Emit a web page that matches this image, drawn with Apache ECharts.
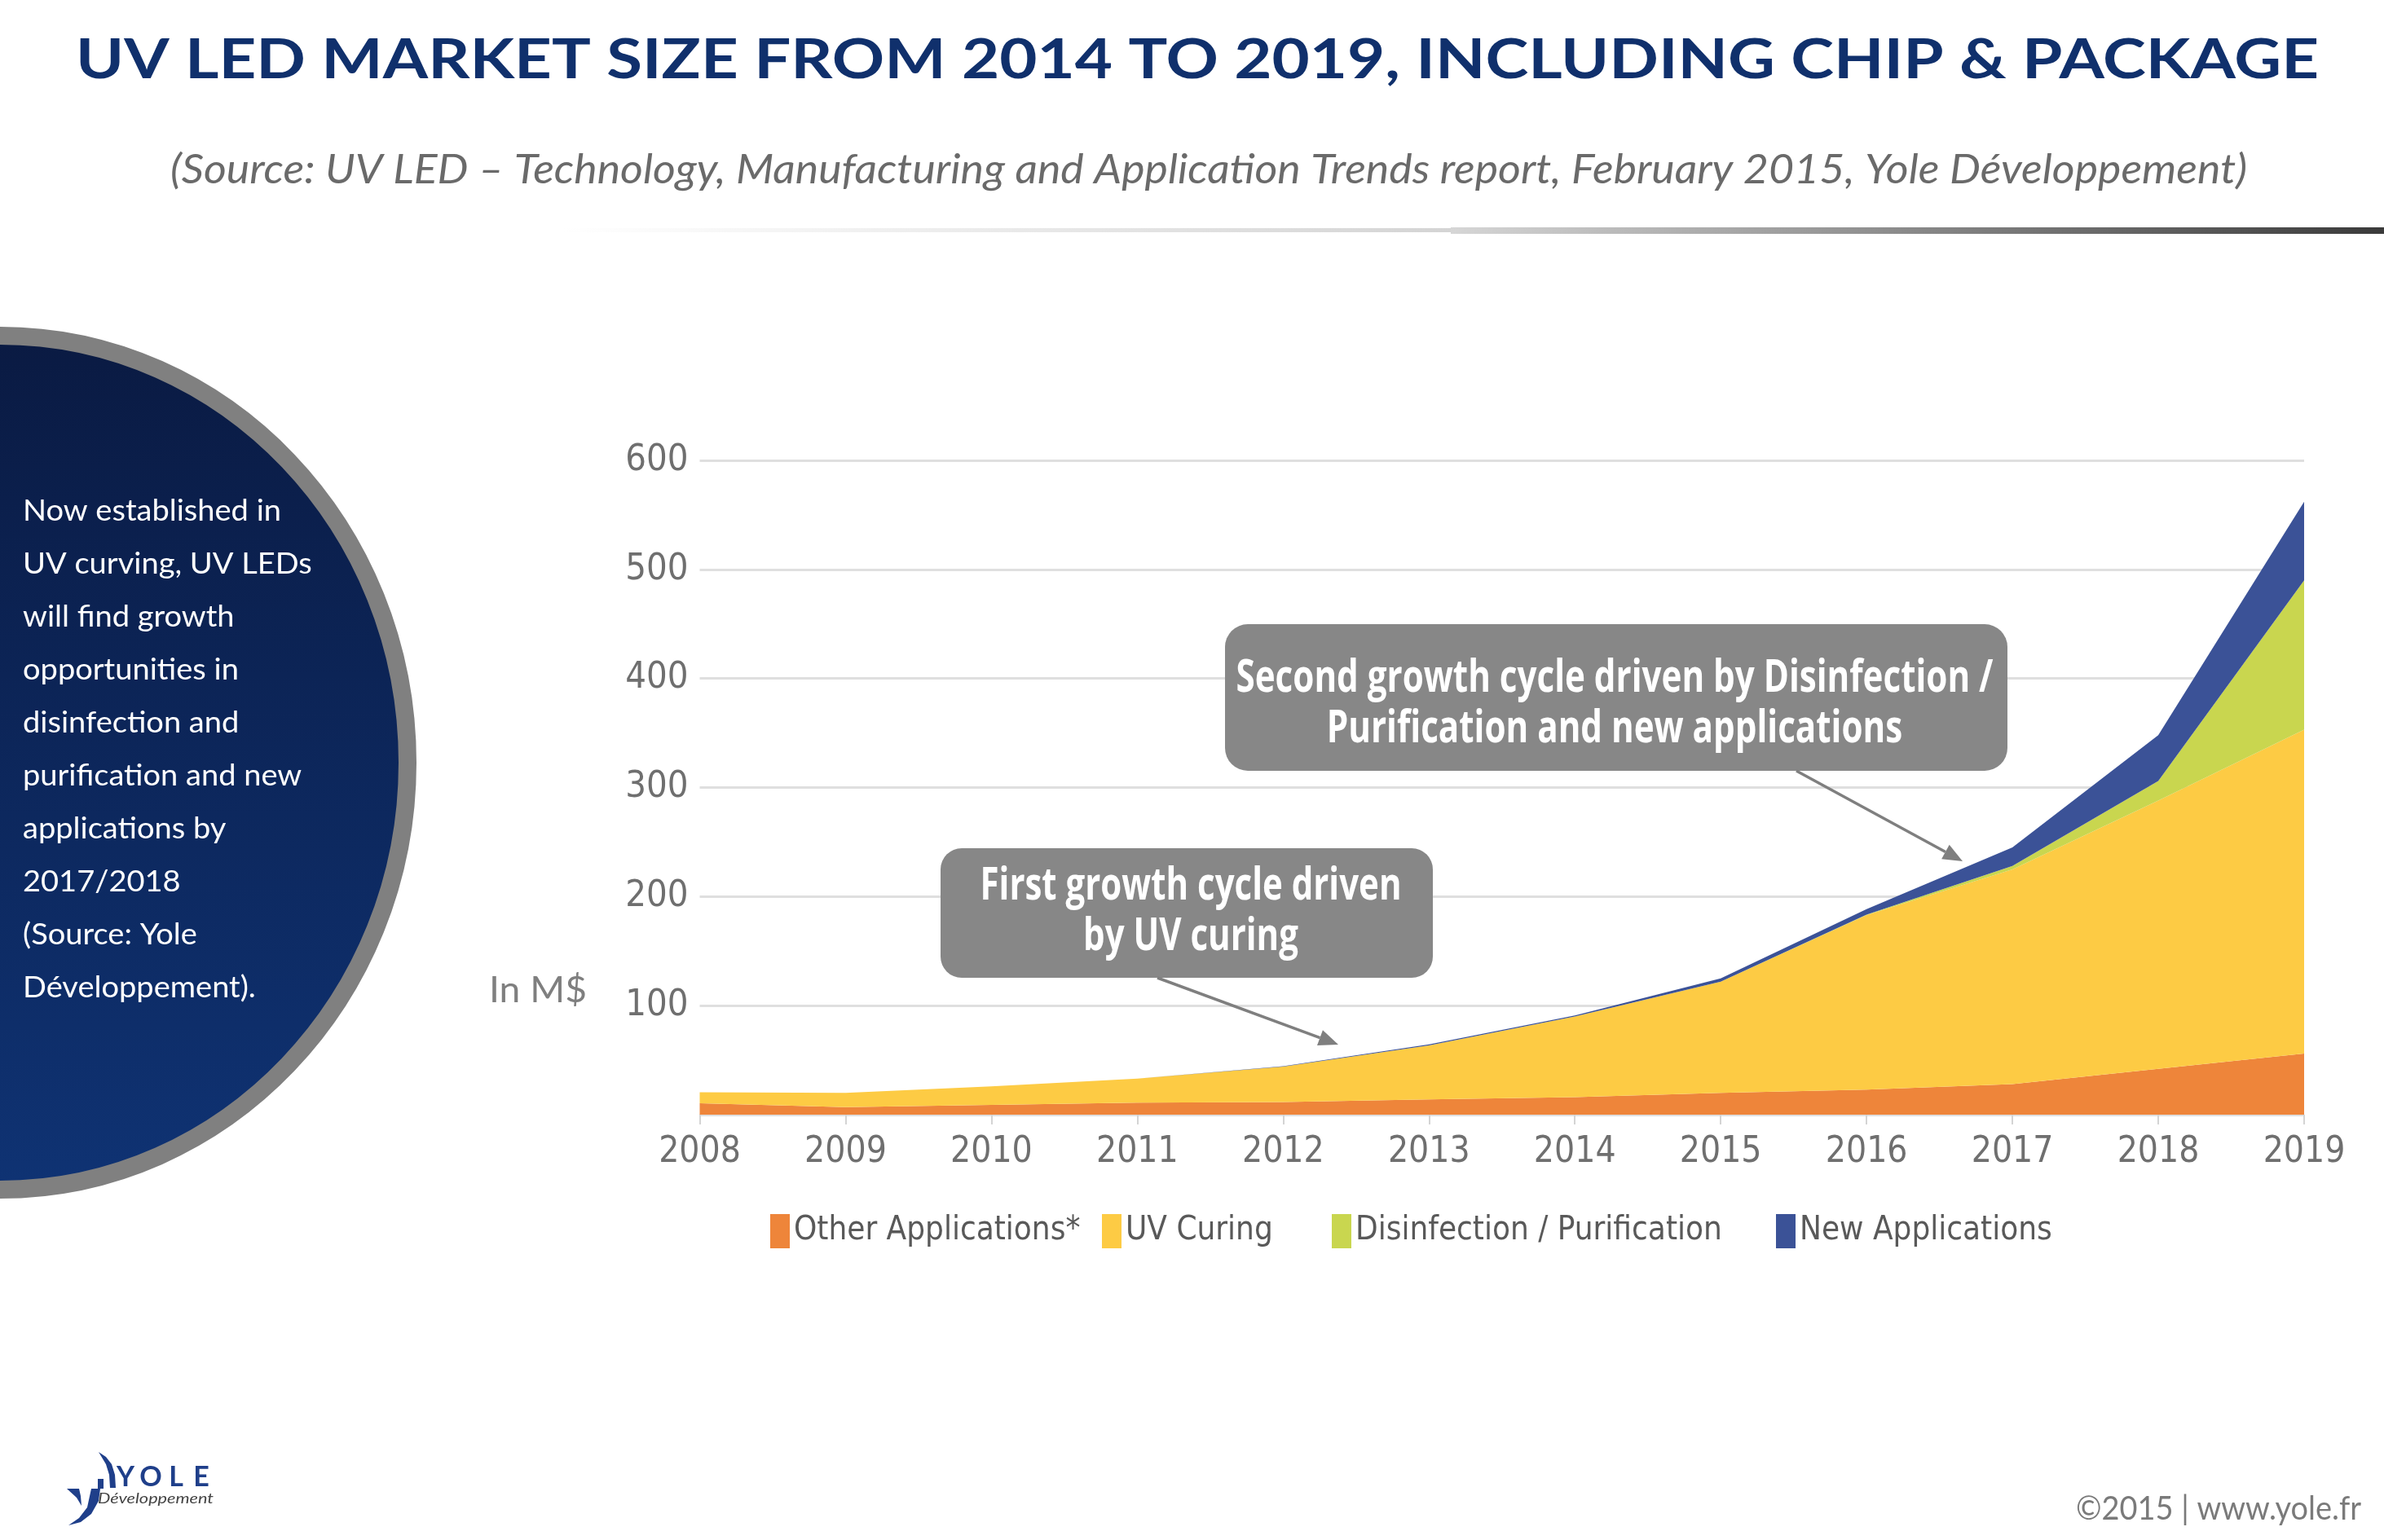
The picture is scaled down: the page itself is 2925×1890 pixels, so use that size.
<!DOCTYPE html>
<html>
<head>
<meta charset="utf-8">
<script src="https://cdn.jsdelivr.net/npm/echarts@6/dist/echarts.min.js"></script>
<style>html,body{margin:0;padding:0;background:#fff}#c{width:2925px;height:1890px}</style>
</head>
<body>
<div id="c"></div>
<script>
// ---------- data ----------
const years = ['2008','2009','2010','2011','2012','2013','2014','2015','2016','2017','2018','2019'];
const otherApplications = [10.5, 7, 9, 11, 11.5, 14, 16, 20, 23, 28, 42, 56];
const uvCuring = [10, 13, 17, 22, 32.5, 49.5, 74, 102, 160, 197, 246, 297];
const disinfection = [0, 0, 0, 0, 0, 0, 0, 0, 0.5, 3, 18, 137];
const newApplications = [0, 0, 0, 0, 0.5, 1, 1, 3, 5, 17, 42, 72];
const seriesNames = ['Other Applications*', 'UV Curing', 'Disinfection / Purification', 'New Applications'];
const yMin = 0, yMax = 600, yStep = 100;

const titleText = 'UV LED MARKET SIZE FROM 2014 TO 2019, INCLUDING CHIP & PACKAGE';
const subtitleText = '(Source: UV LED \u2013 Technology, Manufacturing and Application Trends report, February 2015, Yole D\u00e9veloppement)';
const sideLines = ['Now established in', 'UV curving, UV LEDs', 'will find growth', 'opportunities in',
  'disinfection and', 'purification and new', 'applications by', '2017/2018', '(Source: Yole', 'D\u00e9veloppement).'];
const note1 = ['First growth cycle driven', 'by UV curing'];
const note2 = ['Second growth cycle driven by Disinfection /', 'Purification and new applications'];
const unitText = 'In M$';
const footerText = '\u00a92015 | www.yole.fr';

// ---------- style ----------
const colors = ['#EE853A', '#FDCB44', '#C9D64F', '#3B5297'];
const NARROW = "'Liberation Sans Narrow', 'DejaVu Sans Condensed', 'Arial Narrow', sans-serif";
const HUMAN = "Lato, 'Open Sans', sans-serif";
const legendLefts = [945, 1352, 1634, 2179];

const mctx = document.createElement('canvas').getContext('2d');
function textWidth(t, size, family, weight, style) {
  mctx.font = `${style || 'normal'} ${weight || 'normal'} ${size}px ${family}`;
  return mctx.measureText(t).width;
}
function txt(t, x, y, o) {
  const sx = o.width ? o.width / textWidth(t, o.size, o.family, o.weight, o.italic ? 'italic' : 'normal') : (o.sx || 1);
  return {
    type: 'text', x: x, y: y, scaleX: sx, z: o.z || 10,
    style: {
      text: t, fill: o.color, fontSize: o.size, fontFamily: o.family,
      fontWeight: o.weight || 'normal', fontStyle: o.italic ? 'italic' : 'normal',
      align: o.align || 'left', textAlign: o.align || 'left',
      verticalAlign: 'middle', textVerticalAlign: 'middle'
    }
  };
}
function arrow(x1, y1, x2, y2) {
  const ang = Math.atan2(y2 - y1, x2 - x1), L = 24, W = 10;
  const bx = x2 - L * Math.cos(ang), by = y2 - L * Math.sin(ang);
  const px = -Math.sin(ang) * W, py = Math.cos(ang) * W;
  return [
    { type: 'line', z: 10, shape: { x1, y1, x2: bx, y2: by }, style: { stroke: '#7f7f7f', lineWidth: 3.5 } },
    { type: 'polygon', z: 10, shape: { points: [[x2, y2], [bx + px, by + py], [bx - px, by - py]] }, style: { fill: '#7f7f7f' } }
  ];
}

const chart = echarts.init(document.getElementById('c'), null, { renderer: 'canvas' });

const graphics = [];
// title & subtitle
graphics.push(txt(titleText, 1469, 74, { size: 67, family: HUMAN, weight: 'bold', color: '#10306C', align: 'center', width: 2752 }));
graphics.push(txt(subtitleText, 1483, 209, { size: 50, family: HUMAN, italic: true, color: '#6a6a6a', align: 'center', width: 2548 }));
// separator line
graphics.push({ type: 'rect', shape: { x: 690, y: 280, width: 1090, height: 5 },
  style: { fill: { type: 'linear', x: 0, y: 0, x2: 1, y2: 0, colorStops: [{ offset: 0, color: '#ffffff' }, { offset: 1, color: '#d4d4d4' }] } } });
graphics.push({ type: 'rect', shape: { x: 1780, y: 279, width: 1145, height: 8 },
  style: { fill: { type: 'linear', x: 0, y: 0, x2: 1, y2: 0, colorStops: [{ offset: 0, color: '#d6d6d6' }, { offset: 1, color: '#3a3a3a' }] } } });
// side ellipse
graphics.push({ type: 'ellipse', z: 5, shape: { cx: 0, cy: 936, rx: 500, ry: 524 },
  style: { stroke: '#808080', lineWidth: 22,
    fill: { type: 'linear', x: 0, y: 0, x2: 0, y2: 1, colorStops: [{ offset: 0, color: '#0a1a42' }, { offset: 1, color: '#0f3374' }] } } });
const sideScale = 317 / textWidth(sideLines[0], 37, HUMAN);
sideLines.forEach((l, i) => graphics.push(txt(l, 28, 627 + 65 * i, { size: 37, family: HUMAN, color: '#ffffff', sx: sideScale })));
// unit label
graphics.push(txt(unitText, 600, 1216, { size: 44, family: HUMAN, color: '#7f7f7f', width: 120 }));
// annotation boxes
graphics.push({ type: 'rect', z: 9, shape: { x: 1154, y: 1041, width: 604, height: 159, r: 26 }, style: { fill: '#878787' } });
const n1s = 517 / textWidth(note1[0], 56, "'Open Sans', sans-serif", 'bold');
graphics.push(txt(note1[0], 1461, 1088, { size: 56, family: "'Open Sans', sans-serif", weight: 'bold', color: '#ffffff', align: 'center', sx: n1s }));
graphics.push(txt(note1[1], 1461, 1150, { size: 56, family: "'Open Sans', sans-serif", weight: 'bold', color: '#ffffff', align: 'center', sx: n1s }));
graphics.push(...arrow(1420, 1200, 1642, 1282));
graphics.push({ type: 'rect', z: 9, shape: { x: 1503, y: 766, width: 960, height: 180, r: 28 }, style: { fill: '#878787' } });
const n2s = 929 / textWidth(note2[0], 56, "'Open Sans', sans-serif", 'bold');
graphics.push(txt(note2[0], 1981, 833, { size: 56, family: "'Open Sans', sans-serif", weight: 'bold', color: '#ffffff', align: 'center', sx: n2s }));
graphics.push(txt(note2[1], 1981, 895, { size: 56, family: "'Open Sans', sans-serif", weight: 'bold', color: '#ffffff', align: 'center', sx: n2s }));
graphics.push(...arrow(2204, 946, 2408, 1057));
// footer
graphics.push(txt(footerText, 2897, 1852, { size: 40, family: HUMAN, color: '#7a7a7a', align: 'right', width: 350 }));
// logo
const navy = '#1F3F8A';
graphics.push({ type: 'polygon', shape: { points: [[82, 1827], [97, 1827], [99, 1836], [100, 1848], [94, 1838]] }, style: { fill: navy } });
graphics.push({ type: 'polygon', shape: { points: [[112, 1827], [123, 1827], [121, 1842], [112, 1858], [99, 1868], [84, 1872], [97, 1863], [107, 1850]] }, style: { fill: navy } });
graphics.push({ type: 'rect', shape: { x: 120, y: 1815, width: 7, height: 12 }, style: { fill: navy } });
graphics.push({ type: 'polygon', shape: { points: [[121, 1782], [130, 1788], [137, 1797], [141, 1810], [142, 1826], [135, 1826], [134, 1810], [130, 1797]] }, style: { fill: navy } });
['Y', 'O', 'L', 'E'].forEach((c, i) => graphics.push(txt(c, 154 + i * 31, 1813, { size: 34, family: HUMAN, weight: 'bold', color: navy, align: 'center' })));
graphics.push(txt('D\u00e9veloppement', 120, 1840, { size: 17, family: HUMAN, italic: true, color: '#444444', width: 142 }));

const series = [otherApplications, uvCuring, disinfection, newApplications].map((d, i) => ({
  name: seriesNames[i], type: 'line', stack: 'total', data: d, symbol: 'none', smooth: false,
  lineStyle: { width: 0 }, areaStyle: { color: colors[i], opacity: 1 }, itemStyle: { color: colors[i] },
  emphasis: { disabled: true }, silent: true
}));

chart.setOption({
  animation: false,
  backgroundColor: '#ffffff',
  grid: { left: 858.5, right: 98, top: 565, bottom: 522, containLabel: false },
  xAxis: {
    type: 'category', data: years, boundaryGap: false,
    axisLine: { show: false },
    axisTick: { show: true, length: 12, lineStyle: { color: '#d4d4d4', width: 2 } },
    axisLabel: { fontSize: 44, color: '#6f6f6f', fontFamily: NARROW, margin: 25 },
    splitLine: { show: false }
  },
  yAxis: {
    type: 'value', min: yMin, max: yMax, interval: yStep,
    axisLine: { show: false }, axisTick: { show: false },
    axisLabel: { fontSize: 45, color: '#6f6f6f', fontFamily: NARROW, margin: 14, padding: [0, 0, 22, 0],
      formatter: v => (v === 0 ? '' : String(v)) },
    splitLine: { lineStyle: { color: '#dfdfdf', width: 3 } }
  },
  legend: seriesNames.map((n, i) => ({
    data: [n], left: legendLefts[i], top: 1490, padding: 0, itemWidth: 24, itemHeight: 42, icon: 'rect',
    selectedMode: false, textStyle: { fontSize: 40, color: '#595959', fontFamily: NARROW }
  })),
  series: series,
  graphic: { elements: graphics }
});
</script>
</body>
</html>
